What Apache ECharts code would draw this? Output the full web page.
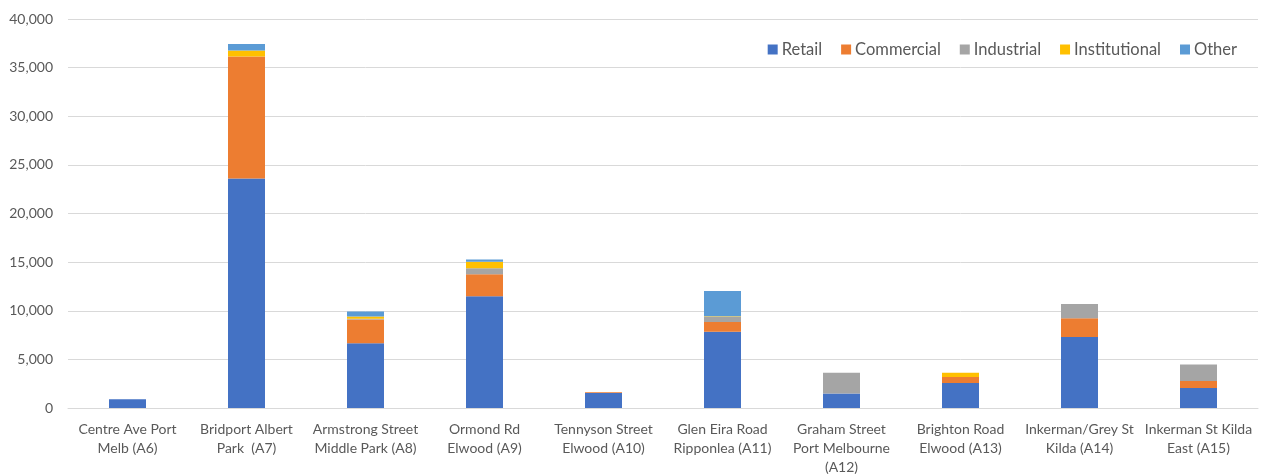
<!DOCTYPE html>
<html><head><meta charset="utf-8">
<script src="https://cdn.jsdelivr.net/npm/echarts@6/dist/echarts.min.js"></script>
<style>html,body{margin:0;padding:0;background:#fff}#c{width:1271px;height:475px}</style>
</head><body><div id="c"></div>
<script>
const categories = ["Centre Ave Port\nMelb (A6)", "Bridport Albert\nPark  (A7)", "Armstrong Street\nMiddle Park (A8)", "Ormond Rd\nElwood (A9)", "Tennyson Street\nElwood (A10)", "Glen Eira Road\nRipponlea (A11)", "Graham Street\nPort Melbourne\n(A12)", "Brighton Road\nElwood (A13)", "Inkerman/Grey St\nKilda (A14)", "Inkerman St Kilda\nEast (A15)"];
const retail =        [900, 23600, 6650, 11500, 1550, 7850, 1500, 2570, 7300, 2050];
const commercial =    [0, 12550, 2450, 2250, 70, 1000, 0, 620, 1930, 720];
const industrial =    [0, 0, 80, 620, 0, 540, 2130, 0, 1470, 1710];
const institutional = [0, 600, 220, 680, 0, 50, 0, 440, 0, 0];
const other =         [0, 690, 520, 210, 0, 2580, 0, 0, 0, 0];
const yTicks = {min: 0, max: 40000, interval: 5000};

const FONT = 'Lato';
const TXT = '#595959';
const chart = echarts.init(document.getElementById('c'));
function s(name, data, color) {
  return {name, type: 'bar', stack: 'total', data, barWidth: 37, itemStyle: {color}, emphasis: {disabled: true}};
}
chart.setOption({
  animation: false,
  textStyle: {fontFamily: FONT},
  grid: {left: 68, right: 13, top: 19, bottom: 67, containLabel: false, outerBoundsMode: 'none'},
  legend: {
    right: 29, top: 36, itemWidth: 10, itemHeight: 10, itemGap: 19, icon: 'rect',
    textStyle: {color: TXT, fontSize: 16.5, fontFamily: FONT, padding: [0, 0, 0, -1]},
    data: ['Retail', 'Commercial', 'Industrial', 'Institutional', 'Other']
  },
  xAxis: {
    type: 'category', data: categories,
    axisLine: {lineStyle: {color: '#d9d9d9', width: 1}},
    axisTick: {show: false},
    axisLabel: {color: TXT, fontSize: 14, fontFamily: FONT, interval: 0, margin: 12, lineHeight: 19}
  },
  yAxis: {
    type: 'value', min: yTicks.min, max: yTicks.max, interval: yTicks.interval,
    axisLine: {show: false}, axisTick: {show: false},
    splitLine: {lineStyle: {color: '#d9d9d9', width: 1}},
    axisLabel: {color: TXT, fontSize: 14, fontFamily: FONT, margin: 15,
      formatter: v => v.toLocaleString('en-US')}
  },
  series: [
    s('Retail', retail, '#4472C4'),
    s('Commercial', commercial, '#ED7D31'),
    s('Industrial', industrial, '#A5A5A5'),
    s('Institutional', institutional, '#FFC000'),
    s('Other', other, '#5B9BD5')
  ]
});
</script></body></html>
